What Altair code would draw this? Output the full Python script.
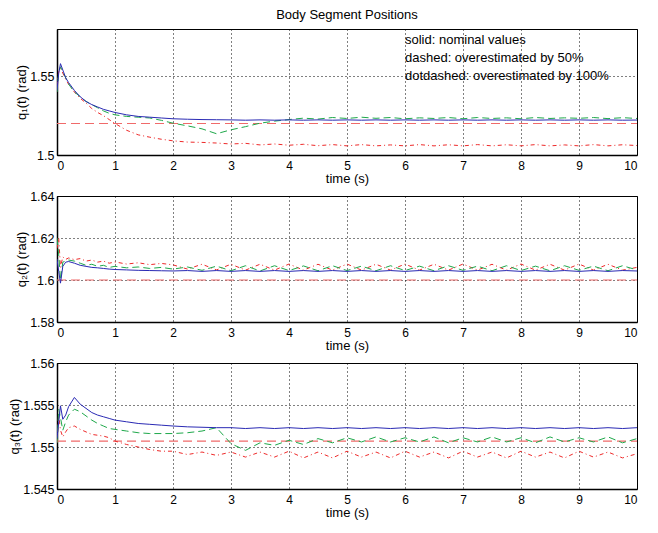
import altair as alt
import pandas as pd

# ---------------- data ----------------
T = [0, 0.03, 0.06, 0.1, 0.15, 0.2, 0.3, 0.4, 0.5,
     0.6, 0.7, 0.8, 0.9, 1.0, 1.2, 1.4, 1.6, 1.8,
     2.0, 2.25, 2.5, 2.75, 3.0, 3.25, 3.5, 3.75, 4.0, 4.25, 4.5,
     4.75, 5.0, 5.25, 5.5, 5.75, 6.0, 6.25, 6.5, 6.75, 7.0, 7.25,
     7.5, 7.75, 8.0, 8.25, 8.5, 8.75, 9.0, 9.25, 9.5, 9.75, 10.0]

# q1
Q1_NOM = [1.541, 1.552, 1.558, 1.554, 1.549, 1.546, 1.541, 1.537, 1.534,
          1.532, 1.5305, 1.529, 1.528, 1.527, 1.5255, 1.5245, 1.524, 1.5235,
          1.523, 1.5227, 1.5225, 1.5224, 1.5223, 1.5221, 1.5223, 1.5221, 1.5223, 1.5221, 1.5223,
          1.5221, 1.5223, 1.5221, 1.5223, 1.5221, 1.5223, 1.5221, 1.5223, 1.5221, 1.5223, 1.5221,
          1.5223, 1.5221, 1.5223, 1.5221, 1.5223, 1.5221, 1.5223, 1.5221, 1.5223, 1.5221, 1.5222]
Q1_50 = [1.540, 1.553, 1.556, 1.553, 1.549, 1.545, 1.540, 1.537, 1.534,
         1.532, 1.530, 1.528, 1.5265, 1.5255, 1.5245, 1.524, 1.5235, 1.522,
         1.5202, 1.5185, 1.5166, 1.5135, 1.516, 1.518, 1.5202, 1.5215, 1.5225, 1.5234, 1.5228,
         1.5238, 1.5232, 1.524, 1.5233, 1.5238, 1.523, 1.5236, 1.5232, 1.5238, 1.523, 1.5238,
         1.5232, 1.5236, 1.523, 1.5238, 1.5232, 1.5236, 1.5233, 1.5238, 1.5231, 1.5237, 1.5232]
Q1_100 = [1.544, 1.553, 1.555, 1.552, 1.548, 1.545, 1.540, 1.536, 1.533,
          1.5295, 1.527, 1.525, 1.5225, 1.520, 1.5157, 1.5128, 1.5113, 1.510,
          1.509, 1.5082, 1.508, 1.5076, 1.507, 1.5074, 1.5064, 1.5070, 1.5062, 1.5068, 1.5059,
          1.5066, 1.5058, 1.5066, 1.5058, 1.5064, 1.5058, 1.5066, 1.5058, 1.5065, 1.5058, 1.5066,
          1.5058, 1.5065, 1.5058, 1.5066, 1.5058, 1.5064, 1.5058, 1.5066, 1.5058, 1.5065, 1.506]
Q1_REF = 1.52

# q2
Q2_NOM = [1.61, 1.604, 1.5985, 1.6065, 1.6085, 1.6088, 1.608, 1.607, 1.6065,
          1.606, 1.6058, 1.6055, 1.6052, 1.605, 1.6048, 1.6046, 1.6045, 1.6044,
          1.6043, 1.6045, 1.6041, 1.6045, 1.6041, 1.6045, 1.6041, 1.6045, 1.6041, 1.6045, 1.6041,
          1.6045, 1.6041, 1.6045, 1.6041, 1.6045, 1.6041, 1.6045, 1.6041, 1.6045, 1.6041, 1.6045,
          1.6041, 1.6045, 1.6041, 1.6045, 1.6041, 1.6045, 1.6041, 1.6045, 1.6041, 1.6045, 1.6043]
Q2_50 = [1.62, 1.612, 1.600, 1.6085, 1.609, 1.6095, 1.609, 1.608, 1.607,
         1.6075, 1.6065, 1.607, 1.606, 1.6065, 1.6058, 1.6062, 1.6055, 1.606,
         1.6052, 1.6062, 1.6046, 1.6066, 1.6044, 1.6068, 1.6043, 1.6068, 1.6045, 1.6067, 1.6044,
         1.6068, 1.6045, 1.6066, 1.6044, 1.6068, 1.6045, 1.6066, 1.6044, 1.6068, 1.6046, 1.6066,
         1.6044, 1.6068, 1.6045, 1.6066, 1.6044, 1.6068, 1.6046, 1.6066, 1.6044, 1.6068, 1.6048]
Q2_100 = [1.615, 1.62, 1.606, 1.611, 1.6098, 1.6105, 1.6097, 1.6102, 1.609,
          1.6095, 1.6085, 1.609, 1.608, 1.6086, 1.6076, 1.6082, 1.6073, 1.6079,
          1.6072, 1.6052, 1.6075, 1.6048, 1.6075, 1.6047, 1.6075, 1.6047, 1.6076, 1.6047, 1.6075,
          1.6047, 1.6076, 1.6047, 1.6075, 1.6047, 1.6076, 1.6047, 1.6075, 1.6047, 1.6076, 1.6047,
          1.6075, 1.6047, 1.6076, 1.6047, 1.6075, 1.6047, 1.6076, 1.6047, 1.6075, 1.6047, 1.606]
Q2_REF = 1.6

# q3
Q3_NOM = [1.551, 1.553, 1.5549, 1.5533, 1.5538, 1.5548, 1.5559, 1.5551, 1.5546,
          1.5541, 1.5538, 1.5536, 1.5534, 1.5532, 1.553, 1.5528, 1.5527, 1.5526,
          1.5525, 1.5524, 1.55235, 1.5523, 1.5523, 1.5522, 1.5523, 1.5522, 1.5523, 1.5522, 1.5523,
          1.5522, 1.5523, 1.5522, 1.5523, 1.5522, 1.5523, 1.5522, 1.5523, 1.5522, 1.5523, 1.5522,
          1.5523, 1.5522, 1.5523, 1.5522, 1.5523, 1.5522, 1.5523, 1.5522, 1.5523, 1.5522, 1.5523]
Q3_50 = [1.5505, 1.5545, 1.5535, 1.552, 1.553, 1.5538, 1.5545, 1.5542, 1.5537,
         1.5532, 1.5528, 1.5525, 1.5522, 1.5521, 1.5519, 1.5517, 1.5516, 1.5516,
         1.5516, 1.5517, 1.5519, 1.5523, 1.5504, 1.5496, 1.5505, 1.5502, 1.5508, 1.5503, 1.551,
         1.5505, 1.5511, 1.5506, 1.5512, 1.5506, 1.5511, 1.5506, 1.5512, 1.5505, 1.5511, 1.5506,
         1.5512, 1.5506, 1.5511, 1.5505, 1.5512, 1.5506, 1.5511, 1.5506, 1.5512, 1.5505, 1.551]
Q3_100 = [1.5505, 1.5538, 1.552, 1.5512, 1.5518, 1.5523, 1.5525, 1.5521, 1.5518,
          1.5515, 1.5514, 1.5513, 1.5511, 1.5507, 1.5503, 1.55, 1.5497, 1.5495,
          1.5495, 1.5491, 1.5494, 1.549, 1.5494, 1.5488, 1.5494, 1.5488, 1.5495, 1.5487, 1.5494,
          1.5487, 1.5495, 1.5488, 1.5494, 1.5487, 1.5495, 1.5488, 1.5494, 1.5487, 1.5495, 1.5488,
          1.5494, 1.5487, 1.5495, 1.5488, 1.5494, 1.5487, 1.5495, 1.5488, 1.5494, 1.5487, 1.5492]
Q3_REF = 1.5507

X_TICKS = [0, 1, 2, 3, 4, 5, 6, 7, 8, 9, 10]
Y_DOMAINS = [[1.5, 1.58], [1.58, 1.64], [1.545, 1.56]]
Y_TICKS = [[1.5, 1.55], [1.58, 1.6, 1.62, 1.64], [1.545, 1.55, 1.555, 1.56]]
Y_TITLES = ["q\u2081(t)  (rad)", "q\u2082(t)  (rad)", "q\u2083(t)  (rad)"]

LEG_TEXT = ["solid: nominal values", "dashed: overestimated by 50%",
            "dotdashed: overestimated by 100%"]
LEG_X = [6.0, 6.0, 6.0]
LEG_Y = [1.5733, 1.5617, 1.5502]

FONT = "Liberation Sans"
BLUE = "#2a2ab4"
GREEN = "#1ea84a"
RED = "#ee2a2a"
RED_LIGHT = "#f06a6a"


def panel(i, nom, p50, p100, ref, title=None, legend=False):
    n = len(T)
    df = pd.DataFrame({"t": T * 3, "v": nom + p50 + p100,
                       "s": ["nom"] * n + ["p50"] * n + ["p100"] * n})
    refdf = pd.DataFrame({"t": [0, 10], "v": [ref, ref]})
    x = alt.X("t:Q", scale=alt.Scale(domain=[0, 10], nice=False),
              axis=alt.Axis(values=X_TICKS, title="time (s)"))
    y = alt.Y("v:Q", scale=alt.Scale(domain=Y_DOMAINS[i], nice=False, zero=False),
              axis=alt.Axis(values=Y_TICKS[i], format="~g", title=Y_TITLES[i]))
    base = alt.Chart(df).encode(x=x, y=y)
    layers = [
        alt.Chart(refdf).mark_line(color=RED_LIGHT, strokeWidth=1.2,
                                   strokeDash=[9, 5], clip=True).encode(x=x, y=y),
        base.transform_filter(alt.datum.s == "p100").mark_line(
            color=RED, strokeWidth=1, strokeDash=[4, 3, 1, 3], clip=True),
        base.transform_filter(alt.datum.s == "p50").mark_line(
            color=GREEN, strokeWidth=1, strokeDash=[7, 4], clip=True),
        base.transform_filter(alt.datum.s == "nom").mark_line(
            color=BLUE, strokeWidth=1, clip=True),
    ]
    if legend:
        ldf = pd.DataFrame({"t": LEG_X, "v": LEG_Y, "txt": LEG_TEXT})
        layers.append(alt.Chart(ldf).mark_text(
            align="left", baseline="middle", fontSize=13, font=FONT, color="black"
        ).encode(x=x, y=y, text="txt:N"))
    ch = alt.layer(*layers).properties(width=580, height=126)
    if title:
        ch = ch.properties(title=alt.TitleParams(
            title, fontSize=13, fontWeight="normal", font=FONT, color="black",
            anchor="middle", offset=7))
    return ch


c1 = panel(0, Q1_NOM, Q1_50, Q1_100, Q1_REF, title="Body Segment Positions", legend=True)
c2 = panel(1, Q2_NOM, Q2_50, Q2_100, Q2_REF)
c3 = panel(2, Q3_NOM, Q3_50, Q3_100, Q3_REF)

chart = alt.vconcat(c1, c2, c3, spacing=3).properties(
    padding=0, background="white"
).configure_view(
    stroke="black", strokeWidth=1, fill="white"
).configure_axis(
    labelFont=FONT, titleFont=FONT, labelFontSize=12.5, titleFontSize=13,
    titleFontWeight="normal", labelColor="black", titleColor="black",
    domainColor="black", domainWidth=1.5, ticks=False,
    grid=True, gridColor="black", gridDash=[1, 3], gridOpacity=1, gridWidth=1,
).configure_axisX(
    labelPadding=5, titlePadding=1, labelFontSize=12
).configure_axisY(
    labelPadding=3, titlePadding=1
)

chart.save("out.html", embed_options={"renderer": "svg", "actions": False})
